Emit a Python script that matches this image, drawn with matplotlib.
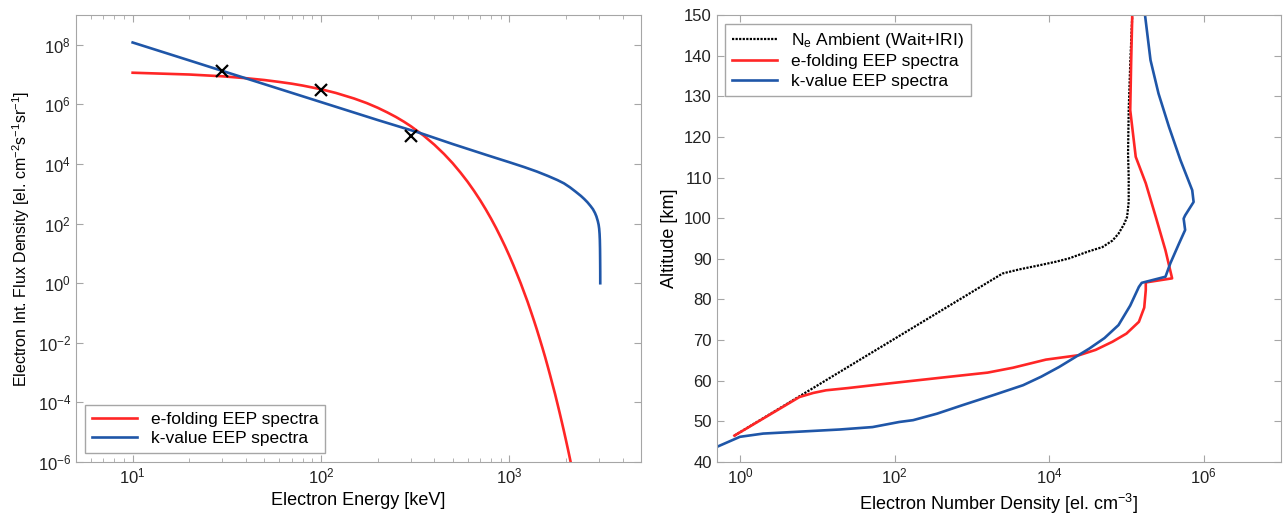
import matplotlib
matplotlib.use("Agg")
import matplotlib.pyplot as plt
from matplotlib.ticker import LogLocator, NullLocator, MultipleLocator

plt.rcParams['font.family'] = ['Liberation Sans', 'DejaVu Sans']
plt.rcParams['mathtext.fontset'] = 'custom'
plt.rcParams['mathtext.rm'] = 'Liberation Sans'
plt.rcParams['mathtext.it'] = 'Liberation Sans:italic'
plt.rcParams['font.size'] = 11

RED = '#ff2626'
BLUE = '#1f56a8'
GRID_GREY = '#a6a6a6'

# --- EEP energy spectra (left panel) ---
efold_energy = [10, 20, 30, 40, 50, 60, 70, 80, 100, 120, 150, 175, 200, 225,
                250, 275, 300, 350, 400, 450, 500, 550, 600, 650, 700, 750,
                800, 850, 900, 950, 1000, 1050, 1100, 1150, 1200, 1250, 1300,
                1350, 1400, 1450, 1500, 1550, 1600, 1650, 1700, 1750, 1800,
                1850, 1900, 1950, 2000, 2050, 2100, 2150]
efold_flux = [1.16e7, 1.01e7, 8.8e6, 7.6e6, 6.6e6, 5.7e6, 4.97e6, 4.3e6,
              3.24e6, 2.43e6, 1.58e6, 1.11e6, 7.75e5, 5.4e5, 3.8e5, 2.66e5,
              1.86e5, 9.1e4, 4.45e4, 2.18e4, 1.07e4, 5.2e3, 2.56e3, 1.25e3,
              613, 300, 147, 72, 35, 17.2, 8.4, 4.1, 2.0, 0.99, 0.48, 0.24,
              0.116, 0.057, 0.028, 0.0136, 6.7e-3, 3.3e-3, 1.6e-3, 7.8e-4,
              3.8e-4, 1.9e-4, 9.2e-5, 4.5e-5, 2.2e-5, 1.08e-5, 5.3e-6,
              2.6e-6, 1.27e-6, 6.2e-7]

kval_energy = [10, 20, 30, 50, 100, 200, 336, 500, 759, 900, 1000, 1200,
               1400, 1600, 1800, 1950, 2100, 2250, 2400, 2500, 2600, 2700,
               2780, 2850, 2900, 2950, 2980, 3000, 3015, 3025, 3032, 3036,
               3039, 3040]
kval_flux = [1.2e8, 3.0e7, 1.33e7, 4.8e6, 1.2e6, 3.0e5, 1.1e5, 4.7e4, 2.0e4,
             1.42e4, 1.15e4, 7.9e3, 5.6e3, 4.0e3, 2.9e3, 2.25e3, 1.65e3,
             1.18e3, 850, 670, 520, 390, 305, 228, 175, 122, 92, 68, 45, 28,
             14, 6, 2.5, 1]

# satellite flux measurements
meas_energy = [30, 100, 300]
meas_flux = [1.3e7, 2.95e6, 8.5e4]

# --- electron density profiles (right panel) ---
amb_density = [0.85, 2500, 4100, 7000, 1.23e4, 1.8e4, 3.2e4, 4.9e4, 6.6e4,
               7.9e4, 9.3e4, 1.02e5, 1.07e5, 1.07e5, 1.05e5, 1.07e5, 1.12e5,
               1.19e5]
amb_alt = [46.5, 86.4, 87.4, 88.3, 89.3, 90.1, 91.8, 92.9, 94.5, 96.2, 98.5,
           100.3, 104, 110, 116, 126.6, 138, 150]

efold_density = [0.85, 5.9, 8.9, 13, 25, 65, 470, 1600, 3400, 9100, 2.45e4,
                 4.0e4, 6.6e4, 1.0e5, 1.45e5, 1.7e5, 1.78e5, 1.78e5, 3.9e5,
                 3.2e5, 2.4e5, 1.78e5, 1.32e5, 1.12e5, 1.15e5, 1.19e5]
efold_alt = [46.5, 56.0, 57.0, 57.65, 58.2, 59.1, 60.9, 62.0, 63.2, 65.2,
             66.3, 67.6, 69.6, 71.6, 74.5, 78, 82.3, 84.2, 85.2, 92.1, 100.3,
             108.6, 115.1, 126.6, 138, 150]

kval_density = [0.5, 1.0, 2.0, 19.5, 52, 115, 174, 355, 760, 2000, 4600,
                7900, 1.35e4, 3.3e4, 5.2e4, 7.9e4, 1.12e5, 1.45e5, 1.58e5,
                3.2e5, 3.7e5, 4.8e5, 5.75e5, 5.5e5, 5.75e5, 7.4e5, 7.1e5,
                5.0e5, 3.55e5, 2.6e5, 2.05e5, 1.74e5]
kval_alt = [43.7, 46.2, 47.0, 48.0, 48.6, 49.85, 50.3, 51.9, 54.0, 56.6,
            58.9, 61.0, 63.4, 67.9, 70.5, 73.7, 78.5, 83.1, 84.1, 85.6, 88.9,
            93.8, 97.1, 99.9, 100.7, 104.0, 106.9, 114.3, 122.5, 130.7,
            138.9, 150]

fig = plt.figure(figsize=(12.85, 5.19), dpi=100)
ax1 = fig.add_axes([0.0591, 0.1098, 0.4397, 0.8612])
ax2 = fig.add_axes([0.5577, 0.1098, 0.4392, 0.8612])

ax1.plot(efold_energy, efold_flux, color=RED, lw=1.9, label='e-folding EEP spectra')
ax1.plot(kval_energy, kval_flux, color=BLUE, lw=1.9, label='k-value EEP spectra')
ax1.plot(meas_energy, meas_flux, 'x', color='black', ms=9, mew=1.6)
ax1.set_xscale('log')
ax1.set_yscale('log')
ax1.set_xlim(5, 5000)
ax1.set_ylim(1e-6, 1e9)
ax1.set_yticks([1e-6, 1e-4, 1e-2, 1e0, 1e2, 1e4, 1e6, 1e8])
ax1.yaxis.set_minor_locator(NullLocator())
ax1.xaxis.set_major_locator(LogLocator(base=10))
ax1.xaxis.set_minor_locator(LogLocator(base=10, subs=range(2, 10)))
ax1.set_xlabel('Electron Energy [keV]', fontsize=13)
ax1.set_ylabel('Electron Int. Flux Density [el. cm$^{-2}$s$^{-1}$sr$^{-1}$]', fontsize=11.5)
ax1.legend(loc='lower left', fancybox=False, edgecolor=GRID_GREY, framealpha=1,
           handlelength=2.6, borderpad=0.4, labelspacing=0.25, fontsize=12.5)

ax2.plot(amb_density, amb_alt, color='black', lw=1.6, ls=(0, (1, 0.6)),
         label='N$_\\mathregular{e}$ Ambient (Wait+IRI)')
ax2.plot(efold_density, efold_alt, color=RED, lw=1.9, label='e-folding EEP spectra')
ax2.plot(kval_density, kval_alt, color=BLUE, lw=1.9, label='k-value EEP spectra')
ax2.set_xscale('log')
ax2.set_xlim(0.5, 1e7)
ax2.set_ylim(40, 150)
ax2.set_xticks([1e0, 1e2, 1e4, 1e6])
ax2.xaxis.set_minor_locator(NullLocator())
ax2.yaxis.set_major_locator(MultipleLocator(10))
ax2.set_xlabel('Electron Number Density [el. cm$^{-3}$]', fontsize=13)
ax2.set_ylabel('Altitude [km]', fontsize=13)
ax2.legend(loc='upper left', fancybox=False, edgecolor=GRID_GREY, framealpha=1,
           handlelength=2.6, borderpad=0.4, labelspacing=0.25, fontsize=12.5)

for ax in (ax1, ax2):
    for sp in ax.spines.values():
        sp.set_color(GRID_GREY)
    ax.tick_params(which='both', direction='in', top=True, right=True,
                   color=GRID_GREY, labelsize=12, labelcolor='#222222')
    ax.tick_params(which='major', length=5)
    ax.tick_params(which='minor', length=3)

fig.savefig('out.png', dpi=100)
